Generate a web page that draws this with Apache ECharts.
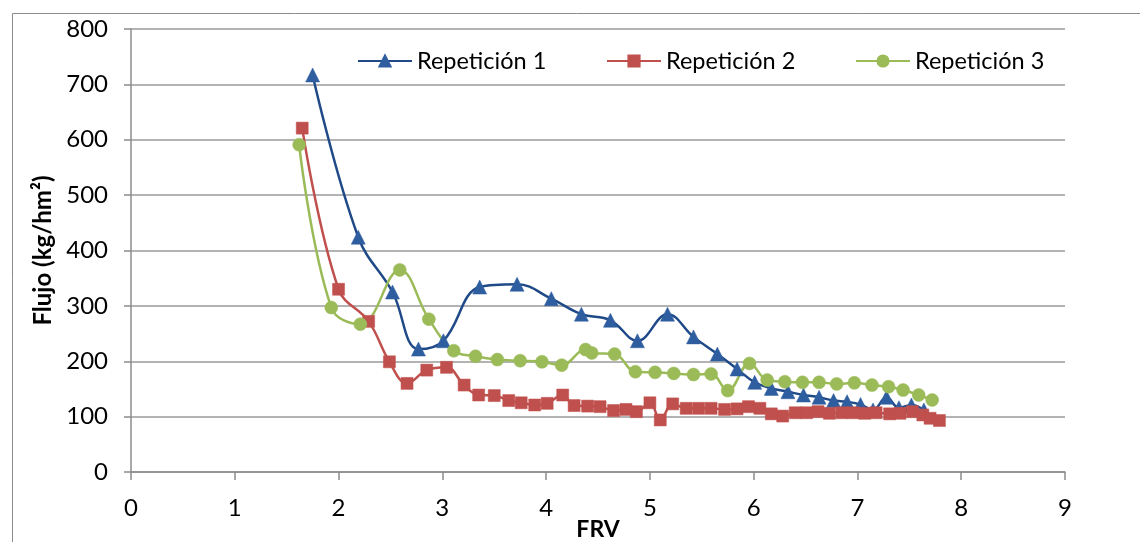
<!DOCTYPE html>
<html>
<head>
<meta charset="utf-8">
<script src="https://cdn.jsdelivr.net/npm/echarts@6/dist/echarts.min.js"></script>
<style>
html,body{margin:0;padding:0;background:#fff;}
#chart{width:1140px;height:542px;}
</style>
</head>
<body>
<div id="chart"></div>
<script>
const seriesNames = ['Repetición 1', 'Repetición 2', 'Repetición 3'];
const xTicks = [0, 1, 2, 3, 4, 5, 6, 7, 8, 9];
const yTicks = [0, 100, 200, 300, 400, 500, 600, 700, 800];

const rep1X = [1.75, 2.19, 2.52, 2.77, 3.01, 3.36, 3.72, 4.05, 4.34, 4.62, 4.88, 5.17, 5.42, 5.65, 5.84, 6.01, 6.17, 6.33, 6.48, 6.63, 6.77, 6.90, 7.03, 7.15, 7.28, 7.40, 7.52, 7.64];
const rep1Y = [717, 424, 325, 222, 237, 334, 339, 313, 285, 274, 237, 285, 244, 213, 186, 162, 151, 145, 139, 135, 129, 127, 122, 112, 135, 116, 121, 112];

const rep2X = [1.65, 2.00, 2.29, 2.49, 2.66, 2.85, 3.04, 3.21, 3.35, 3.50, 3.64, 3.76, 3.89, 4.01, 4.16, 4.27, 4.40, 4.52, 4.65, 4.77, 4.87, 5.00, 5.10, 5.22, 5.35, 5.47, 5.59, 5.72, 5.84, 5.95, 6.06, 6.17, 6.28, 6.40, 6.51, 6.62, 6.73, 6.85, 6.96, 7.07, 7.18, 7.31, 7.41, 7.53, 7.63, 7.70, 7.79];
const rep2Y = [621, 330, 272, 199, 160, 184, 189, 157, 139, 138, 129, 125, 121, 124, 139, 120, 119, 118, 111, 113, 109, 125, 94, 123, 115, 115, 115, 113, 114, 118, 115, 105, 101, 107, 107, 109, 106, 107, 107, 106, 107, 105, 106, 109, 103, 97, 93];

const rep3X = [1.62, 1.93, 2.21, 2.59, 2.87, 3.11, 3.32, 3.53, 3.75, 3.96, 4.15, 4.38, 4.44, 4.66, 4.86, 5.05, 5.23, 5.42, 5.59, 5.75, 5.96, 6.13, 6.30, 6.47, 6.63, 6.80, 6.97, 7.14, 7.30, 7.44, 7.59, 7.72];
const rep3Y = [591, 297, 267, 365, 276, 219, 209, 203, 201, 199, 193, 221, 215, 213, 181, 180, 178, 176, 177, 147, 196, 166, 163, 162, 162, 159, 161, 157, 154, 148, 139, 130];

const pair = (xs, ys) => xs.map((x, i) => [x, ys[i]]);
const FONT = 'Lato, "Open Sans", sans-serif';

const styles = [
  {line: '#1F4A87', fill: '#2E5E9F', symbol: 'triangle', size: 14},
  {line: '#C0504D', fill: '#C0504D', symbol: 'rect', size: 12},
  {line: '#9BBB59', fill: '#9BBB59', symbol: 'circle', size: 13}
];
const datas = [pair(rep1X, rep1Y), pair(rep2X, rep2Y), pair(rep3X, rep3Y)];
const legendLefts = [352, 601, 850];

const chart = echarts.init(document.getElementById('chart'), null, {renderer: 'canvas'});
chart.setOption({
  animation: false,
  backgroundColor: '#fff',
  graphic: [{
    type: 'rect', left: 10, top: 11, silent: true,
    shape: {width: 1300, height: 700},
    style: {fill: 'none', stroke: '#8C8C8C', lineWidth: 1}
  }],
  legend: seriesNames.map((n, i) => ({
    data: [n],
    left: legendLefts[i],
    top: 44,
    itemWidth: 54,
    itemHeight: 14,
    itemGap: 5,
    textStyle: {fontFamily: FONT, fontSize: 23.5, color: '#000'}
  })),
  grid: {left: 131, right: 75, top: 29, bottom: 70, containLabel: false, outerBoundsMode: 'none'},
  xAxis: {
    type: 'value', min: 0, max: 9, interval: 1,
    name: 'FRV', nameLocation: 'middle', nameGap: 46, nameMoveOverlap: false,
    nameTextStyle: {fontFamily: FONT, fontSize: 23, fontWeight: 'bold', color: '#000', verticalAlign: 'top'},
    axisLine: {show: true, lineStyle: {color: '#8C8C8C', width: 1.5}},
    axisTick: {show: true, inside: false, length: 8, lineStyle: {color: '#8C8C8C', width: 1.5}},
    axisLabel: {fontFamily: FONT, fontSize: 24, color: '#000', margin: 24,
      formatter: v => xTicks.includes(v) ? String(v) : ''},
    splitLine: {show: false}
  },
  yAxis: {
    type: 'value', min: 0, max: 800, interval: 100,
    name: 'Flujo (kg/hm²)', nameLocation: 'middle', nameGap: 76, nameRotate: 90, nameMoveOverlap: false,
    nameTextStyle: {fontFamily: FONT, fontSize: 24, fontWeight: 'bold', color: '#000'},
    axisLine: {show: true, lineStyle: {color: '#8C8C8C', width: 1.5}},
    axisTick: {show: true, inside: false, length: 7, lineStyle: {color: '#8C8C8C', width: 1.5}},
    axisLabel: {fontFamily: FONT, fontSize: 24, color: '#000', margin: 23,
      formatter: v => yTicks.includes(v) ? String(v) : ''},
    splitLine: {show: true, lineStyle: {color: '#9A9A9A', width: 1.5}}
  },
  series: seriesNames.map((n, i) => ({
    name: n,
    type: 'line',
    data: datas[i],
    smooth: 0.4,
    symbol: styles[i].symbol,
    symbolSize: styles[i].size,
    showAllSymbol: true,
    lineStyle: {color: styles[i].line, width: 2.5},
    itemStyle: {color: styles[i].fill, borderColor: styles[i].fill, borderWidth: 0.5}
  }))
});
</script>
</body>
</html>
